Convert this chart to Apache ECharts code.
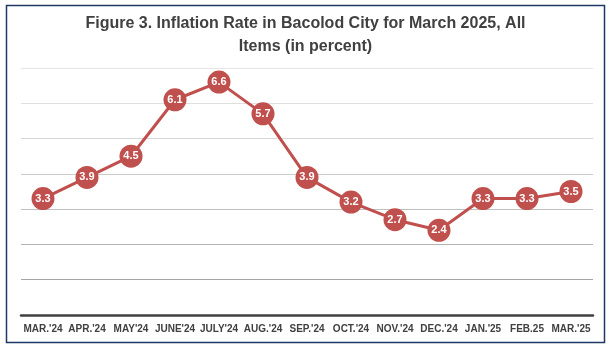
<!DOCTYPE html>
<html>
<head>
<meta charset="utf-8">
<script src="https://cdn.jsdelivr.net/npm/echarts@6/dist/echarts.min.js"></script>
<style>
    html, body { margin: 0; padding: 0; background: #fff; }
    #chart { width: 611px; height: 350px; }
</style>
</head>
<body>
<div id="chart"></div>
<script>
    let months = [
        "MAR.'24", "APR.'24", "MAY'24", "JUNE'24", "JULY'24", "AUG.'24", "SEP.'24",
        "OCT.'24", "NOV.'24", "DEC.'24", "JAN.'25", "FEB.25", "MAR.'25"
    ];
    let inflationRate = [3.3, 3.9, 4.5, 6.1, 6.6, 5.7, 3.9, 3.2, 2.7, 2.4, 3.3, 3.3, 3.5];

    let chart = echarts.init(document.getElementById('chart'));

    let option = {
        animation: false,
        title: {
            text: 'Figure 3. Inflation Rate in Bacolod City for March 2025, All\nItems (in percent)',
            left: 'center',
            top: 7,
            textStyle: {
                fontFamily: 'Liberation Sans, Arial, sans-serif',
                fontSize: 16,
                fontWeight: 'bold',
                color: '#404040',
                lineHeight: 23
            }
        },
        graphic: [
            {
                type: 'rect',
                shape: { x: 6.5, y: 5.5, width: 598, height: 337 },
                style: { fill: 'none', stroke: '#1f3864', lineWidth: 1.5 },
                silent: true
            }
        ],
        grid: {
            left: 21,
            right: 18,
            top: 68,
            bottom: 35
        },
        xAxis: {
            type: 'category',
            boundaryGap: true,
            data: months,
            axisLine: { lineStyle: { color: '#404040', width: 2.5 } },
            axisTick: { show: false },
            axisLabel: {
                interval: 0,
                margin: 9,
                fontFamily: 'Liberation Sans, Arial, sans-serif',
                fontSize: 10,
                fontWeight: 'bold',
                color: '#404040'
            }
        },
        yAxis: {
            type: 'value',
            min: 0,
            max: 7,
            interval: 1,
            axisLabel: { show: false },
            axisLine: { show: false },
            axisTick: { show: false },
            splitLine: {
                lineStyle: {
                    color: ['#999999', '#a6a6a6', '#b3b3b3', '#c0c0c0', '#cbcbcb', '#d6d6d6', '#dfdfdf', '#e6e6e6'],
                    width: 1
                }
            }
        },
        series: [
            {
                name: 'Inflation Rate',
                type: 'line',
                data: inflationRate,
                symbol: 'circle',
                symbolSize: 23,
                lineStyle: { color: '#c0504d', width: 3 },
                itemStyle: { color: '#c0504d' },
                label: {
                    show: true,
                    position: 'inside',
                    formatter: function (p) { return p.value.toFixed(1); },
                    fontFamily: 'Liberation Sans, Arial, sans-serif',
                    fontSize: 11,
                    fontWeight: 'bold',
                    color: '#ffffff'
                }
            }
        ]
    };
    chart.setOption(option);
</script>
</body>
</html>
